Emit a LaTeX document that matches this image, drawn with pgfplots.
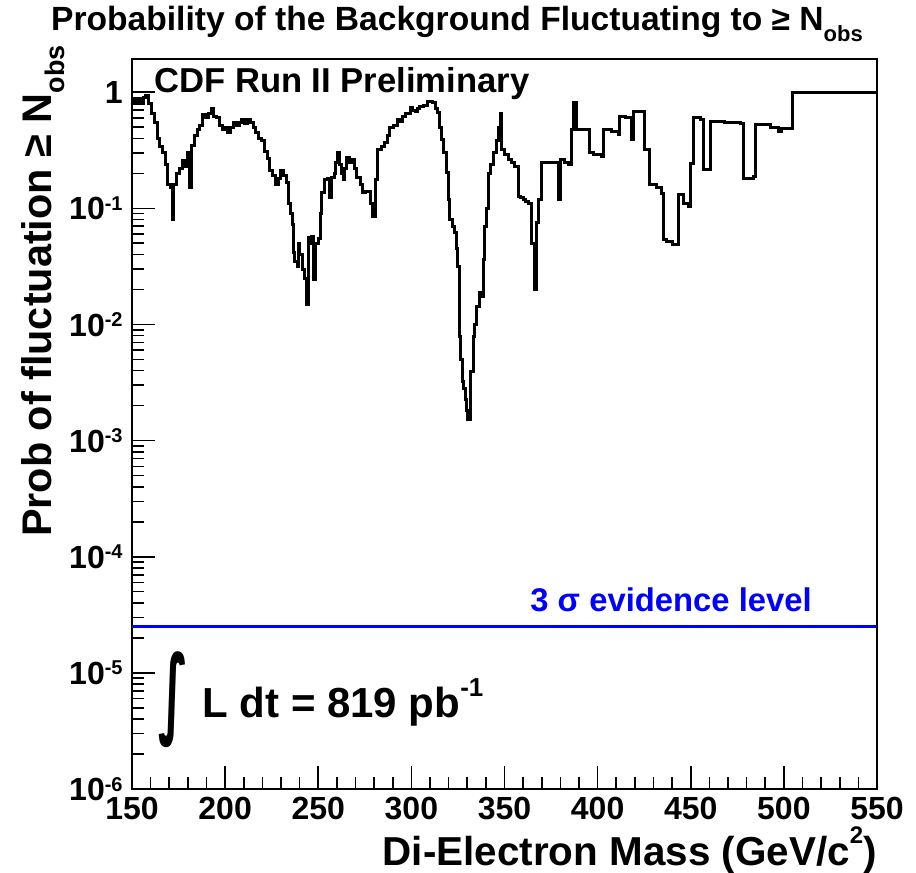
\documentclass[border=0pt]{standalone}
\usepackage{pgfplots}
\pgfplotsset{compat=1.18}
\usepackage{pgfplotstable}
\usepackage{fontspec}
\setmainfont{Liberation Sans}
\newfontfamily\djv{DejaVu Sans}
\usepackage{graphicx}
\newcommand\sups[1]{\raisebox{0.3em}{\fontsize{10}{10}\selectfont #1}}
\pgfplotstableread{
x y
150 0.86
151.5 0.80
153 0.88
154.5 0.80
156 0.90
157.5 0.93
159 0.80
160.5 0.66
162 0.55
163.5 0.40
165 0.34
166.5 0.30
168 0.24
169 0.16
170.5 0.15
171.5 0.08
172.5 0.16
174 0.20
175.5 0.22
177 0.26
178.5 0.23
180 0.30
181 0.15
182 0.35
183.5 0.42
185 0.48
186.5 0.52
188 0.64
189.5 0.60
191 0.66
192.5 0.73
194 0.62
195.5 0.60
197 0.52
198.5 0.48
200 0.50
201.5 0.45
203 0.50
204.5 0.55
206 0.52
207.5 0.55
209 0.58
210.5 0.54
212 0.58
213.5 0.55
215 0.50
216.5 0.45
218 0.40
219.5 0.38
221 0.31
222.5 0.27
224 0.21
225.5 0.19
227 0.16
228.5 0.18
230 0.21
231.5 0.19
233 0.166
234 0.11
235 0.09
236 0.072
236.6 0.042
237.5 0.035
238.6 0.0315
239.2 0.05
240.2 0.04
241.3 0.0297
242.5 0.025
243.5 0.0148
244.5 0.0558
245.5 0.05
246.6 0.057
247.5 0.0243
248.5 0.05
250 0.055
251 0.09
252 0.136
253.6 0.176
255 0.18
256.3 0.123
257.2 0.183
258.5 0.20
259.5 0.25
260.6 0.30
261.5 0.24
262.5 0.20
263.3 0.176
264.3 0.22
265.4 0.272
267 0.25
268 0.262
269.5 0.22
270.8 0.183
272.5 0.16
274 0.136
275.5 0.14
276.7 0.139
278 0.11
279.3 0.085
280.5 0.176
282 0.32
284 0.34
285.8 0.366
287 0.42
288.5 0.50
290.5 0.52
292.3 0.578
294 0.56
295.5 0.613
297 0.65
299.3 0.733
300.8 0.70
302 0.677
303.5 0.72
304.6 0.748
306.5 0.77
308.9 0.825
311.6 0.81
313 0.72
313.8 0.664
315 0.50
316.4 0.389
317.5 0.30
319.1 0.202
320 0.12
320.7 0.08
322 0.07
323.4 0.062
324.2 0.045
325 0.0315
325.6 0.015
326.1 0.0079
326.6 0.005
327.2 0.0032
328 0.0028
328.8 0.00226
329.6 0.0018
330.4 0.00152
331.5 0.0039
333.1 0.0079
334 0.010
335.2 0.0143
336.8 0.0188
337.8 0.0175
338.6 0.036
339.5 0.07
340.5 0.10
341.3 0.20
342.5 0.24
344 0.30
345.5 0.38
346.7 0.50
347.6 0.65
348.5 0.32
350 0.29
352 0.262
353.5 0.25
355.6 0.23
357.4 0.127
358.5 0.125
360 0.119
361.5 0.115
362.8 0.111
364.6 0.05
366 0.020
367.3 0.075
368.5 0.12
370 0.247
378.9 0.119
379.8 0.262
382 0.25
384.3 0.237
386.1 0.474
386.9 0.81
388.8 0.474
395.9 0.30
398 0.29
402.2 0.28
403.1 0.474
407.5 0.46
411.1 0.43
412 0.617
414.7 0.60
418.3 0.389
419.2 0.68
425.4 0.32
428.1 0.16
431.7 0.15
434.4 0.135
435.3 0.054
437.1 0.052
440 0.049
443.3 0.131
446 0.111
448.7 0.104
449.6 0.245
451.4 0.60
455 0.578
456.8 0.215
460.4 0.56
468 0.55
476.5 0.54
478.2 0.18
483.6 0.188
484.5 0.524
493 0.50
497 0.458
498.8 0.49
504.5 1.0
550 1.0
}\probdata
\begin{document}
\begin{tikzpicture}
\begin{axis}[
  scale only axis, width=372.5pt, height=365pt,
  xmin=150, xmax=550, ymode=log, ymin=1e-6, ymax=1.93,
  xtick={150,200,...,550},
  xticklabels={150,200,250,300,350,400,450,500,550},
  minor x tick num=4,
  ytick={1e-6,1e-5,1e-4,1e-3,1e-2,1e-1,1},
  yticklabels={10\sups{-6},10\sups{-5},10\sups{-4},10\sups{-3},10\sups{-2},10\sups{-1},1},
  tick align=inside, xtick pos=left, ytick pos=left,
  major tick length=11.5pt, minor tick length=6pt,
  tick style={black, line width=0.8pt},
  axis line style={line width=1pt},
  ticklabel style={font=\bfseries\fontsize{16}{16}\selectfont},
  xticklabel style={inner sep=0pt, yshift=-4pt, anchor=north},
  yticklabel style={inner sep=0pt, xshift=-4.5pt, anchor=east},
]
\addplot[const plot mark left, black, line width=1.5pt] table[x=x,y=y] {\probdata};
\addplot[blue, line width=1.5pt] coordinates {(150,2.5e-5) (550,2.5e-5)};
\coordinate (bl) at (rel axis cs:0,0);
\end{axis}
\begin{scope}[shift={(bl)}, xshift=-66pt, yshift=394.5pt, x=0.5pt, y=-0.5pt]
\node[anchor=base, inner sep=0pt, font=\bfseries\fontsize{16.8}{16.8}\selectfont] at (457,31)
  {Probability of the Background Fluctuating to ≥ N\raisebox{-0.3em}{\fontsize{11}{11}\selectfont obs}};
\node[anchor=base east, rotate=90, inner sep=0pt, font=\bfseries\fontsize{20.7}{20.7}\selectfont] at (52,45)
  {Prob of fluctuation ≥ N\raisebox{-0.3em}{\fontsize{13.5}{13.5}\selectfont obs}};
\node[anchor=base east, inner sep=0pt, font=\bfseries\fontsize{20.2}{20.2}\selectfont] at (877,865)
  {Di-Electron Mass (GeV/c\raisebox{0.52em}{\fontsize{12}{12}\selectfont 2})};
\node[anchor=base west, inner sep=0pt, font=\bfseries\fontsize{17.3}{17.3}\selectfont] at (154,93)
  {CDF Run II Preliminary};
\node[anchor=base west, inner sep=0pt, text=blue, font=\bfseries\fontsize{16.4}{16.4}\selectfont] at (530,612)
  {3 σ evidence level};
\node[inner sep=0pt] at (174,700) {\resizebox*{15pt}{48pt}{\djv\bfseries ∫}};
\node[anchor=base west, inner sep=0pt, font=\bfseries\fontsize{21}{21}\selectfont] at (202,718)
  {L dt = 819 pb\raisebox{0.5em}{\fontsize{13}{13}\selectfont -1}};
\pgfresetboundingbox
\path (0,0) rectangle (916,873);
\end{scope}
\end{tikzpicture}
\end{document}
